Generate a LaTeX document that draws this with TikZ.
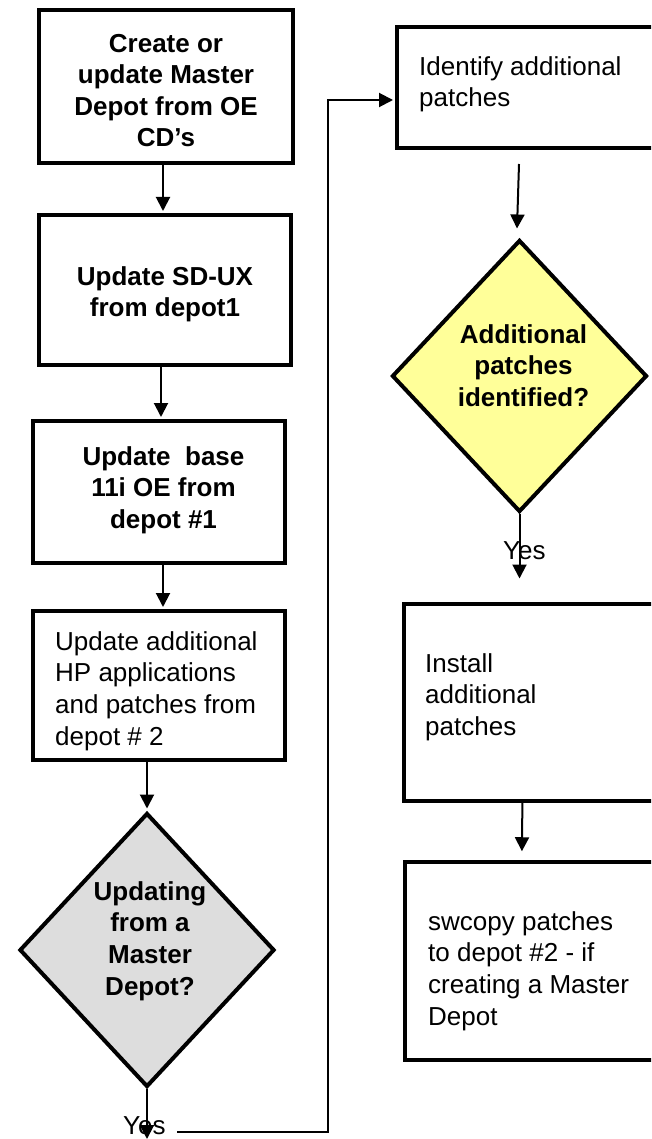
\documentclass[tikz,border=0pt]{standalone}
\usepackage{fontspec}
\setmainfont{Liberation Sans}
\usetikzlibrary{arrows.meta,shapes.geometric,calc}

\definecolor{graybg}{HTML}{DDDDDD}
\definecolor{yellowbg}{HTML}{FFFF99}

% strut that fixes the first baseline 22pt below the top of a text block
\newcommand{\firstline}{\rule{0pt}{22pt}}

\tikzset{
  stepbox/.style={draw, rectangle, line width=4pt, inner sep=0pt},
  decision/.style={draw, diamond, aspect=1, line width=4pt, inner sep=0pt},
  txt/.style={inner sep=0pt, font=\fontsize{26}{31.6}\selectfont},
  txtb/.style={inner sep=0pt, font=\fontsize{26}{31.6}\selectfont\bfseries},
  flow/.style={line width=2pt, -{Triangle[width=14pt,length=14pt]}}
}

\begin{document}
\begin{tikzpicture}[x=1pt, y=-1pt]
\useasboundingbox (0,0) rectangle (651,1139);
\clip (0,0) rectangle (651,1139);

% ---- left column ----
\node[stepbox, minimum width=254pt, minimum height=153pt] (b1) at (166,86.5) {};
\node[stepbox, minimum width=252pt, minimum height=150pt] (b2) at (165,290) {};
\node[stepbox, minimum width=252pt, minimum height=142pt] (b3) at (159,492) {};
\node[stepbox, minimum width=252pt, minimum height=149pt] (b4) at (159,685.5) {};
\node[decision, fill=graybg, minimum width=255pt, minimum height=274pt] (d1) at (147,950) {};

\node[txtb, align=center, anchor=north] (t1) at (166,30)
  {\firstline Create or\\update Master\\Depot from OE\\CD’s};
\node[txtb, align=center, anchor=north] (t2) at (165,263)
  {\firstline Update SD-UX\\from depot1};
\node[txtb, align=center, anchor=north] (t3) at (163.5,443)
  {\firstline Update\ \ base\\11i OE from\\depot \#1};
\node[txt, align=left, anchor=north west] (t4) at (55,628)
  {\firstline Update additional\\HP applications\\and patches from\\depot \# 2};
\node[txtb, align=center, anchor=north] (td1) at (150,878)
  {\firstline Updating\\from a\\Master\\Depot?};
\node[txt, anchor=base west] (yes1) at (123,1134) {Yes};

% ---- right column ----
\node[stepbox, minimum width=268pt, minimum height=121pt] (b5) at (531,87.5) {};
\node[decision, fill=yellowbg, minimum width=255pt, minimum height=272pt] (d2) at (519.5,376) {};
\node[stepbox, minimum width=261pt, minimum height=197pt] (b6) at (534.4,702.5) {};
\node[stepbox, minimum width=260pt, minimum height=198pt] (b7) at (534.9,961) {};

\node[txt, align=left, anchor=north west] (t5) at (419,53)
  {\firstline Identify additional\\patches};
\node[txtb, align=center, anchor=north] (td2) at (523.5,321)
  {\firstline Additional\\patches\\identified?};
\node[txt, anchor=base west] (yes2) at (503,559) {Yes};
\node[txt, align=left, anchor=north west] (t6) at (425,650)
  {\firstline Install\\additional\\patches};
\node[txt, align=left, anchor=north west] (t7) at (428,908)
  {\firstline swcopy patches\\to depot \#2 - if\\creating a Master\\Depot};

% ---- connectors ----
\draw[flow] ($(b1.south)+(-3,0)$) -- ($(b2.north)+(-2,-2)$);
\draw[flow] ($(b2.south)+(-4,-2)$) -- ($(b3.north)+(2,-2)$);
\draw[flow] ($(b3.south)+(4,0)$) -- ($(b4.north)+(4,-2)$);
\draw[flow] ($(b4.south)+(-12,0)$) -- ($(d1.north)+(0,-2.5)$);

\coordinate (dend) at (147,1139);
\draw[flow] (d1.south) -- (dend);

\coordinate (loopstart) at (177,1132);
\coordinate (bendlow) at (328,1132);
\coordinate (bendhigh) at (328,100);
\draw[flow] (loopstart) -- (bendlow) -- (bendhigh) -- ($(b5.west |- bendhigh)+(-2,0)$);

\draw[flow] ($(d2.north |- b5.south)+(-0.5,14)$) -- ($(d2.north)+(-2.5,-9.5)$);
\draw[flow] (d2.south) -- ($(b6.north -| d2.south)+(0,-23.5)$);
\draw[flow] ($(b6.south)+(-12,0)$) -- ($(b7.north)+(-13,-8.75)$);
\end{tikzpicture}
\end{document}
